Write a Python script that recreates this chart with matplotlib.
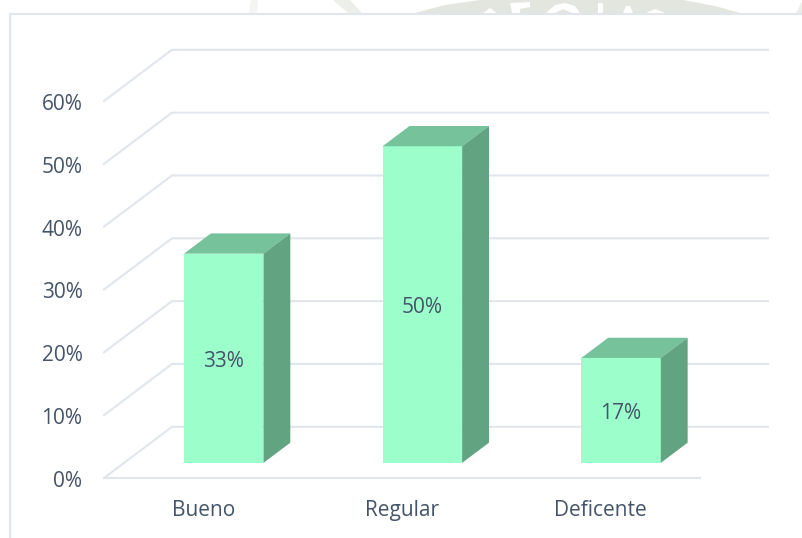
import matplotlib
matplotlib.use('Agg')
import matplotlib.pyplot as plt
from matplotlib.patches import Polygon

plt.rcParams['font.family'] = ['Open Sans', 'DejaVu Sans']

categorias = ['Bueno', 'Regular', 'Deficente']
valores = [33.3, 50.4, 16.7]
marcas_y = [0, 10, 20, 30, 40, 50, 60]

COL_TEXTO = '#44546A'
COL_GRID = '#E1E5EC'
COL_FRENTE = '#9CFFCB'
COL_TECHO = '#75C29B'
COL_LADO = '#62A482'
COL_MARCA = '#E3E6DF'

W, H = 803, 538
fig = plt.figure(figsize=(W / 100, H / 100), dpi=100, facecolor='white')


def px(puntos):
    # pasa pixeles de la imagen (origen arriba) a coordenadas de figura
    return [(x / W, 1 - y / H) for x, y in puntos]


# restos de la marca de agua arriba del cuadro
for forma, color in [
    ([(249, 13), (251, 0), (258, 0), (257, 13)], '#F4F5F2'),
    ([(333, 0), (350, 0), (362, 13), (348, 13)], '#ECEEE9'),
    ([(415, 13), (445, 5), (480, 0), (683, 0), (715, 6), (740, 13)], COL_MARCA),
    ([(796, 13), (800, 5), (803, 0), (803, 13)], '#ECEEE9'),
    ([(483, 13), (490, 8), (497, 13)], 'white'),
    ([(510, 3), (530, 2), (530, 7), (520, 9), (520, 13), (512, 13)], 'white'),
    ([(546, 13), (555, 5), (565, 3), (575, 6), (580, 13), (572, 13), (563, 9), (555, 13)], 'white'),
    ([(598, 3), (603, 3), (603, 13), (598, 13)], 'white'),
    ([(623, 13), (626, 6), (630, 6), (633, 13)], 'white'),
    ([(646, 13), (655, 9), (665, 13)], 'white'),
]:
    fig.add_artist(Polygon(px(forma), closed=True, fc=color, ec='none', transform=fig.transFigure))

# el eje es el plano frontal del piso: x 104-700 px, y 0%-60% = 478-101 px
ax = fig.add_axes([104 / W, 1 - 478 / H, 596 / W, 377 / H])
ax.set_xlim(-0.5, 2.5)
ax.set_ylim(0, 60)
ax.axis('off')

# profundidad del 3D en unidades de datos
PROF_X = 68 / 198.67
PROF_Y = 8.15
ANCHO = 0.4
D_FRENTE = 0.3
D_FONDO = 0.695

# paredes y lineas de la grilla
for m in marcas_y:
    ax.plot([-0.5, -0.5 + PROF_X, 2.5 + PROF_X], [m, m + PROF_Y, m + PROF_Y],
            color=COL_GRID, lw=1.5, clip_on=False, zorder=1, solid_joinstyle='miter')
    ax.annotate(f'{m}%', (-0.5, m), xytext=(-15.5, -2.5), textcoords='offset points',
                ha='right', va='center', fontsize=15, color=COL_TEXTO, annotation_clip=False)
ax.plot([-0.5, 2.5], [0, 0], color=COL_GRID, lw=1.5, clip_on=False, zorder=1)

# barras
for i, (cat, val) in enumerate(zip(categorias, valores)):
    x0 = i - ANCHO / 2 + D_FRENTE * PROF_X
    x1 = i + ANCHO / 2 + D_FRENTE * PROF_X
    y0 = 0.295 * PROF_Y
    y1 = val + y0
    dx = (D_FONDO - D_FRENTE) * PROF_X
    dy = (D_FONDO - D_FRENTE) * PROF_Y
    ax.add_patch(Polygon([(x0, y0), (x1, y0), (x1, y1), (x0, y1)], fc=COL_FRENTE, ec='none', zorder=3, clip_on=False))
    ax.add_patch(Polygon([(x0, y1), (x1, y1), (x1 + dx, y1 + dy), (x0 + dx, y1 + dy)], fc=COL_TECHO, ec='none', zorder=3, clip_on=False))
    ax.add_patch(Polygon([(x1, y0), (x1 + dx, y0 + dy), (x1 + dx, y1 + dy), (x1, y1)], fc=COL_LADO, ec='none', zorder=3, clip_on=False))
    ax.annotate(f'{val:.0f}%', ((x0 + x1) / 2, y0 + val / 2), xytext=(0, -2), textcoords='offset points',
                ha='center', va='center', fontsize=15, color=COL_TEXTO, zorder=4)
    ax.text(i, -5.25, cat, ha='center', va='center', fontsize=15, color=COL_TEXTO, clip_on=False)

# borde del cuadro (sin lado derecho ni inferior)
fig.add_artist(plt.Line2D([10.5 / W, 10.5 / W, 1], [0, 1 - 13.5 / H, 1 - 13.5 / H],
                          color=COL_GRID, lw=1.5))

fig.savefig('out.png', dpi=100, facecolor='white')
